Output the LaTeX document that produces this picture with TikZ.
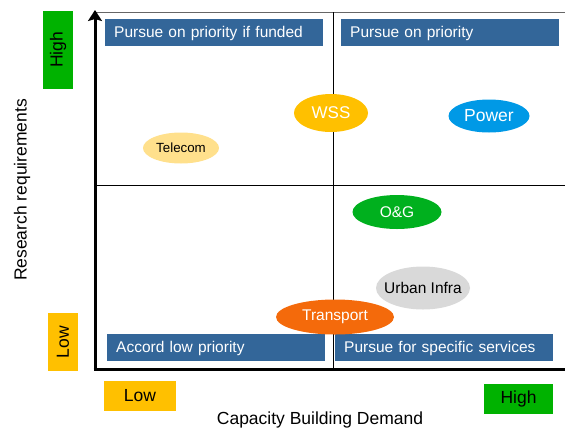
\documentclass[tikz,border=0pt]{standalone}
\usepackage{fontspec}
\setmainfont{Liberation Sans}
\usepackage{tikz}
\usetikzlibrary{positioning,arrows.meta,shapes.geometric}
\definecolor{quadblue}{HTML}{336699}
\definecolor{ratehigh}{HTML}{00B200}
\definecolor{ratelow}{HTML}{FFC000}
\definecolor{wsscol}{HTML}{FFC000}
\definecolor{powercol}{HTML}{0099E6}
\definecolor{telecomcol}{HTML}{FFE08C}
\definecolor{ogcol}{HTML}{00B01E}
\definecolor{urbancol}{HTML}{D9D9D9}
\definecolor{transportcol}{HTML}{F46A0B}
\def\QBWidth{218pt}
\def\QBHeight{27pt}

\tikzset{
  quadbox/.style={fill=quadblue,text=white,anchor=north west,inner xsep=9pt,
    minimum height=\QBHeight,text width=\QBWidth-18pt,align=left,
    text height=11pt,text depth=1pt,
    font=\fontsize{15.5}{18}\selectfont},
  rate/.style={inner sep=0pt,font=\fontsize{17.5}{20}\selectfont},
  sector/.style={ellipse,inner xsep=-8pt,inner ysep=0pt,text=white,
    font=\fontsize{15.5}{18}\selectfont},
  axislabel/.style={font=\fontsize{17.5}{20}\selectfont},
}

\begin{document}
\begin{tikzpicture}[x=1pt,y=-1pt]
  \useasboundingbox (0,0) rectangle (565,429);
  % axes and quadrant grid
  \coordinate (origin) at (95,369);
  \coordinate (ytop) at (95,10);
  \coordinate (xend) at (565,369);
  \coordinate (topl) at (95,12);
  \coordinate (topr) at (565,12);
  \coordinate (midt) at (333,12);
  \coordinate (midb) at (333,369);
  \coordinate (midl) at (95,185);
  \coordinate (midr) at (565,185);
  \draw[gray!80!black,line width=0.8pt] (topl) -- (topr);
  \draw[line width=0.9pt] (midt) -- (midb);
  \draw[line width=0.9pt] (midl) -- (midr);
  \draw[line width=3pt] ([xshift=-1.5pt]origin) -- (xend);
  \draw[line width=3pt,-{Stealth[length=11pt,width=14pt,inset=2pt]}] (origin) -- (ytop);
  % quadrant headings
  \node[quadbox] (funded) at (105,19) {Pursue on priority if funded};
  \node[quadbox] (priority) at (341,19) {Pursue on priority};
  \node[quadbox] (lowprio) at (107,334) {Accord low priority};
  \node[quadbox] (specific) at (335,334) {Pursue for specific services};
  % sectors
  \node[sector,fill=wsscol,minimum width=74pt,minimum height=38pt,
    font=\fontsize{17}{20}\selectfont] (wss) at (331,113) {WSS};
  \node[sector,fill=powercol,minimum width=81pt,minimum height=33pt,
    font=\fontsize{17.5}{20}\selectfont] (power) at (489,116) {Power};
  \node[sector,fill=telecomcol,text=black,minimum width=76pt,minimum height=31pt,
    font=\fontsize{13.3}{16}\selectfont] (telecom) at (181,148) {Telecom};
  \node[sector,fill=ogcol,minimum width=89pt,minimum height=34pt] (og) at (397,212) {O\&G};
  \node[sector,fill=urbancol,text=black,minimum width=94pt,minimum height=43pt] (urban) at (423,288) {Urban Infra};
  \node[sector,fill=transportcol,minimum width=118pt,minimum height=35pt] (transport) at (335,317) {Transport};
  % ratings
  \node[rate,fill=ratehigh,minimum width=78pt,minimum height=30pt,rotate=90] (yhigh) at (58,50) {High};
  \node[rate,fill=ratelow,minimum width=58pt,minimum height=30pt,rotate=90] (ylow) at (63,342) {Low};
  \node[rate,fill=ratelow,minimum width=72pt,minimum height=30pt] (xlow) at (140,396) {Low};
  \node[rate,fill=ratehigh,minimum width=69pt,minimum height=30pt] (xhigh) at (518.5,399) {High};
  % axis titles
  \node[axislabel] (xtitle) at (320,419.5) {Capacity Building Demand};
  \node[axislabel,rotate=90] (ytitle) at (22,190) {Research requirements};
\end{tikzpicture}
\end{document}
